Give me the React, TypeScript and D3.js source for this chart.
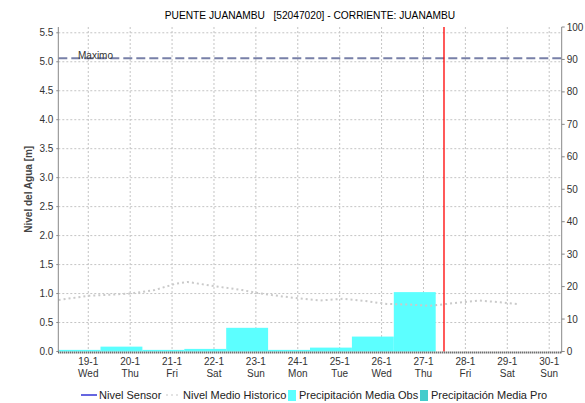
import React from "react";
import * as d3 from "d3";

const TITLE = "PUENTE JUANAMBU   [52047020] - CORRIENTE: JUANAMBU";
const Y_LABEL = "Nivel del Agua [m]";

const dayTicks = ["2022-01-19", "2022-01-20", "2022-01-21", "2022-01-22", "2022-01-23", "2022-01-24", "2022-01-25", "2022-01-26", "2022-01-27", "2022-01-28", "2022-01-29", "2022-01-30"];
const dayNames = ["Wed", "Thu", "Fri", "Sat", "Sun", "Mon", "Tue", "Wed", "Thu", "Fri", "Sat", "Sun"];

const leftTicks = [0, 0.5, 1, 1.5, 2, 2.5, 3, 3.5, 4, 4.5, 5, 5.5];
const rightTicks = [0, 10, 20, 30, 40, 50, 60, 70, 80, 90, 100];

// precipitation: period start (07:00) and value in mm
const precipStart = ["2022-01-18 07:00", "2022-01-19 07:00", "2022-01-20 07:00", "2022-01-21 07:00", "2022-01-22 07:00", "2022-01-23 07:00", "2022-01-24 07:00", "2022-01-25 07:00", "2022-01-26 07:00"];
const precipEnd = ["2022-01-19 07:00", "2022-01-20 07:00", "2022-01-21 07:00", "2022-01-22 07:00", "2022-01-23 07:00", "2022-01-24 07:00", "2022-01-25 07:00", "2022-01-26 07:00", "2022-01-27 07:00"];
const precipObs = [0.5, 1.5, 0.5, 0.8, 7.3, 0.5, 1.2, 4.6, 18.3];

// historical mean level
const histTimes = ["2022-01-18 07:00", "2022-01-19 00:00", "2022-01-19 12:00", "2022-01-20 00:00", "2022-01-20 14:00", "2022-01-21 02:00", "2022-01-21 09:00", "2022-01-22 00:00", "2022-01-22 16:00", "2022-01-23 01:00", "2022-01-23 15:00", "2022-01-24 03:00", "2022-01-24 13:00", "2022-01-25 02:00", "2022-01-25 15:00", "2022-01-26 03:00", "2022-01-26 16:00", "2022-01-27 04:00", "2022-01-27 13:00", "2022-01-28 01:00", "2022-01-28 08:00", "2022-01-28 20:00", "2022-01-29 06:00"];
const histValues = [0.89, 0.96, 0.98, 1.0, 1.06, 1.17, 1.2, 1.13, 1.06, 1.01, 0.95, 0.91, 0.88, 0.91, 0.87, 0.82, 0.81, 0.79, 0.82, 0.86, 0.88, 0.85, 0.82];

const MAXIMO = 5.06;
const NOW = "2022-01-27 11:45";
const X_DOMAIN = ["2022-01-18 06:50", "2022-01-30 07:10"];

const legendItems = ["Nivel Sensor", "Nivel Medio Historico", "Precipitación Media Obs", "Precipitación Media Pro"];

const parse = d3.timeParse("%Y-%m-%d %H:%M");
const parseDay = d3.timeParse("%Y-%m-%d");

const FONT = "'Liberation Sans', Arial, sans-serif";

export default function App() {
  const W = 585, H = 403;
  const px0 = 58.3, px1 = 561.7, py0 = 27, py1 = 351.5;

  const x = d3.scaleTime().domain(X_DOMAIN.map((s) => parse(s) as Date)).range([px0, px1]);
  const yL = d3.scaleLinear().domain([0, 5.6]).range([py1, py0]);
  const yR = d3.scaleLinear().domain([0, 100]).range([py1, py0]);

  const histData = histTimes.map((t, i) => ({ t: parse(t) as Date, v: histValues[i] }));
  const histLine = d3.line<{ t: Date; v: number }>().x((d) => x(d.t)).y((d) => yL(d.v));

  const ticks = dayTicks.map((d) => parseDay(d) as Date);
  const fmt = d3.timeFormat("%-d-%-m");

  const gridColor = "#c4c4c4";
  const axisColor = "#888";

  return (
    <svg width={W} height={H} style={{ position: "absolute", left: 0, top: 0, background: "#fff" }} fontFamily={FONT}>
      <rect x={0} y={0} width={W} height={H} fill="#fff" />
      <text x={(px0 + px1) / 2} y={19} textAnchor="middle" fontSize={10.2} fill="#000" style={{ whiteSpace: "pre" }}>
        {TITLE}
      </text>

      {/* horizontal grid */}
      {leftTicks.filter((v) => v > 0).map((v) => (
        <line key={"hg" + v} x1={px0} x2={px1} y1={yL(v)} y2={yL(v)} stroke={gridColor} strokeWidth={1} strokeDasharray="2,2" />
      ))}
      {/* vertical grid */}
      {ticks.map((t, i) => (
        <line key={"vg" + i} x1={x(t)} x2={x(t)} y1={py0} y2={py1} stroke={gridColor} strokeWidth={1} strokeDasharray="2,2" />
      ))}

      {/* precipitation bars */}
      {precipObs.map((v, i) => {
        const xs = x(parse(precipStart[i]) as Date);
        const xe = x(parse(precipEnd[i]) as Date);
        return <rect key={"b" + i} x={xs} y={yR(v)} width={xe - xs} height={yR(0) - yR(v)} fill="#5cffff" />;
      })}

      {/* historical mean */}
      <path d={histLine(histData) || ""} fill="none" stroke="#cacaca" strokeWidth={2} strokeDasharray="2,3" />

      {/* maximo */}
      <line x1={px0} x2={px1} y1={yL(MAXIMO)} y2={yL(MAXIMO)} stroke="#7880a8" strokeWidth={2} strokeDasharray="9,4" />
      <text x={78} y={yL(MAXIMO) + 0.5} fontSize={10} fill="#333">Maximo</text>

      {/* now line */}
      <line x1={x(parse(NOW) as Date)} x2={x(parse(NOW) as Date)} y1={py0} y2={py1} stroke="#ff0000" strokeWidth={1.3} />

      {/* axes */}
      <line x1={px0} x2={px0} y1={py0} y2={py1 + 1} stroke={axisColor} strokeWidth={1} />
      <line x1={px1} x2={px1} y1={py0} y2={py1 + 1} stroke={axisColor} strokeWidth={1} />
      <line x1={px0} x2={px1} y1={py1 + 1} y2={py1 + 1} stroke="#333" strokeWidth={2} strokeDasharray="1,1" />

      {leftTicks.map((v) => (
        <g key={"lt" + v}>
          <line x1={px0 - 2} x2={px0} y1={yL(v)} y2={yL(v)} stroke={axisColor} />
          <text x={px0 - 5} y={yL(v) + 3.5} textAnchor="end" fontSize={10} fill="#333">{d3.format(".1f")(v)}</text>
        </g>
      ))}
      {rightTicks.map((v) => (
        <g key={"rt" + v}>
          <line x1={px1} x2={px1 + 3} y1={yR(v)} y2={yR(v)} stroke={axisColor} />
          <text x={px1 + 5} y={yR(v) + 3.5} textAnchor="start" fontSize={10} fill="#333">{v}</text>
        </g>
      ))}
      {ticks.map((t, i) => (
        <g key={"xt" + i}>
          <text x={x(t)} y={364.5} textAnchor="middle" fontSize={10} fill="#333">{fmt(t)}</text>
          <text x={x(t)} y={376.5} textAnchor="middle" fontSize={10} fill="#333">{dayNames[i]}</text>
        </g>
      ))}

      <text transform={`translate(32,${(py0 + py1) / 2}) rotate(-90)`} textAnchor="middle" fontSize={10} fontWeight="bold" fill="#444">
        {Y_LABEL}
      </text>

      {/* legend */}
      <g fontSize={11} fill="#222">
        <line x1={81} x2={97} y1={395} y2={395} stroke="#0000cc" strokeWidth={1.2} />
        <text x={99} y={399}>{legendItems[0]}</text>
        <line x1={166} x2={181} y1={395} y2={395} stroke="#c8c8c8" strokeWidth={1.2} strokeDasharray="2,3" />
        <text x={183} y={399}>{legendItems[1]}</text>
        <rect x={288} y={390} width={8} height={11} fill="#5cffff" />
        <text x={299} y={399}>{legendItems[2]}</text>
        <rect x={420} y={390} width={8} height={11} fill="#44cccc" />
        <text x={431} y={399}>{legendItems[3]}</text>
      </g>
    </svg>
  );
}
